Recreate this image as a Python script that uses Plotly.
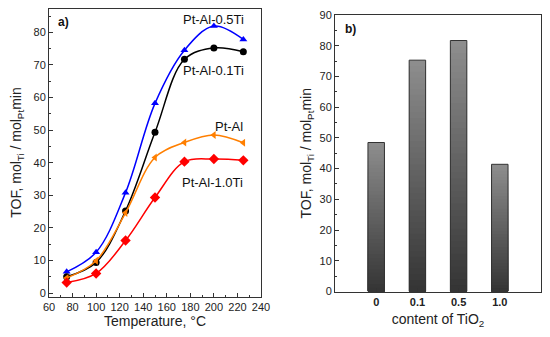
import plotly.graph_objects as go

# ---- data ----
temperature = [75, 100, 125, 150, 175, 200, 225]
tof_pt_al_05ti = [6.5, 12.5, 30.8, 58.2, 74.5, 81.9, 77.8]
tof_pt_al_01ti = [5.0, 9.4, 25.2, 49.3, 71.7, 75.2, 74.0]
tof_pt_al = [4.6, 9.9, 24.6, 41.6, 46.2, 48.5, 46.1]
tof_pt_al_10ti = [3.2, 6.0, 16.1, 29.3, 40.3, 41.1, 40.7]

tio2_labels = ["0", "0.1", "0.5", "1.0"]
tof_bars = [48.5, 75.3, 81.7, 41.4]

FONT = "Liberation Sans, Arial, sans-serif"
# page body has an 8px default margin: size the figure so the page is 550x337
W, H = 534, 321

fig = go.Figure()

series = [
    ("Pt-Al-0.5Ti", tof_pt_al_05ti, "#0000ff", "triangle-up", 7),
    ("Pt-Al-0.1Ti", tof_pt_al_01ti, "#000000", "circle", 7),
    ("Pt-Al", tof_pt_al, "#ff7f00", "triangle-left", 7),
    ("Pt-Al-1.0Ti", tof_pt_al_10ti, "#ff0000", "diamond", 8),
]
for name, ys, col, sym, sz in series:
    fig.add_trace(go.Scatter(
        x=temperature, y=ys, mode="lines+markers", name=name,
        line=dict(color=col, width=1.5, shape="spline", smoothing=1.0),
        marker=dict(color=col, symbol=sym, size=sz, line=dict(width=0)),
        xaxis="x", yaxis="y", showlegend=False))

# ---- bars with vertical gradient (overlapping, progressively shorter bars) ----
N = 40
xpos = list(range(1, len(tof_bars) + 1))
top_c = (142, 142, 142)
bot_c = (52, 52, 52)
for k in range(N):
    frac = (N - k) / N
    t = (N - k - 0.5) / N
    c = tuple(int(round(bot_c[i] + (top_c[i] - bot_c[i]) * t)) for i in range(3))
    fig.add_trace(go.Bar(
        x=xpos, y=[v * frac for v in tof_bars],
        width=0.4, marker=dict(color="rgb(%d,%d,%d)" % c, line=dict(width=0)),
        xaxis="x2", yaxis="y2", showlegend=False, hoverinfo="skip"))
fig.add_trace(go.Bar(
    x=xpos, y=tof_bars, width=0.4,
    marker=dict(color="rgba(0,0,0,0)", line=dict(color="#333333", width=1)),
    xaxis="x2", yaxis="y2", showlegend=False))

axis_common = dict(showgrid=False, zeroline=False, showline=True, linecolor="#333333",
                   linewidth=1, mirror=True, ticks="inside", ticklen=4, automargin=False,
                   ticklabeloverflow="allow",
                   tickcolor="#333333", tickfont=dict(family=FONT, size=11, color="#222"))

ytitle = "TOF, mol<sub>Ti</sub> / mol<sub>Pt</sub>min"


def dx(px):
    return (px - 8) / W


def dy(py):
    return 1 - (py - 8) / H


fig.update_layout(
    template="none",
    width=W, height=H, margin=dict(l=0, r=0, t=0, b=0, pad=0),
    paper_bgcolor="white", plot_bgcolor="white", barmode="overlay",
    font=dict(family=FONT, color="#222"),
    xaxis=dict(domain=[dx(49), dx(261)], anchor="y", range=[60, 240], dtick=20, tick0=60,
               minor=dict(dtick=10, ticks="inside", ticklen=2, tickcolor="#333333"),
               title=dict(text="Temperature, °C", font=dict(size=14), standoff=10),
               **axis_common),
    yaxis=dict(domain=[dy(296.5), dy(8.5)], anchor="x", range=[-1.07, 87.3], dtick=10, tick0=0,
               minor=dict(dtick=5, ticks="inside", ticklen=2, tickcolor="#333333"),
               title=dict(text=ytitle, font=dict(size=14), standoff=8),
               **axis_common),
    xaxis2=dict(domain=[dx(335), dx(541)], anchor="y2", range=[0, 5],
                tickmode="array", tickvals=xpos, ticktext=["<b>%s</b>" % s for s in tio2_labels],
                title=dict(text="content of TiO<sub>2</sub>", font=dict(size=14), standoff=9),
                **axis_common),
    yaxis2=dict(domain=[dy(291.5), dy(15)], anchor="x2", range=[0, 90], dtick=10, tick0=0,
                minor=dict(dtick=5, ticks="inside", ticklen=2, tickcolor="#333333"),
                title=dict(text=ytitle, font=dict(size=14), standoff=4),
                **axis_common),
)

ann = [
    ("<b>a)</b>", 0.035, 0.953, "x domain", "y domain", "left", 12),
    ("<b>b)</b>", 0.039, 0.95, "x2 domain", "y2 domain", "left", 12),
]
for text, x, y, xr, yr, xa, sz in ann:
    fig.add_annotation(text=text, x=x, y=y, xref=xr, yref=yr, xanchor=xa, yanchor="middle",
                       showarrow=False, font=dict(family=FONT, size=sz, color="#111"))

labels = [
    ("Pt-Al-0.5Ti", 200, 84.0),
    ("Pt-Al-0.1Ti", 200, 68.4),
    ("Pt-Al", 213, 51.0),
    ("Pt-Al-1.0Ti", 199, 34.0),
]
for text, x, y in labels:
    fig.add_annotation(text=text, x=x, y=y, xref="x", yref="y", xanchor="center",
                       yanchor="middle", showarrow=False,
                       font=dict(family=FONT, size=13, color="#111"))

fig.write_html("out.html")
